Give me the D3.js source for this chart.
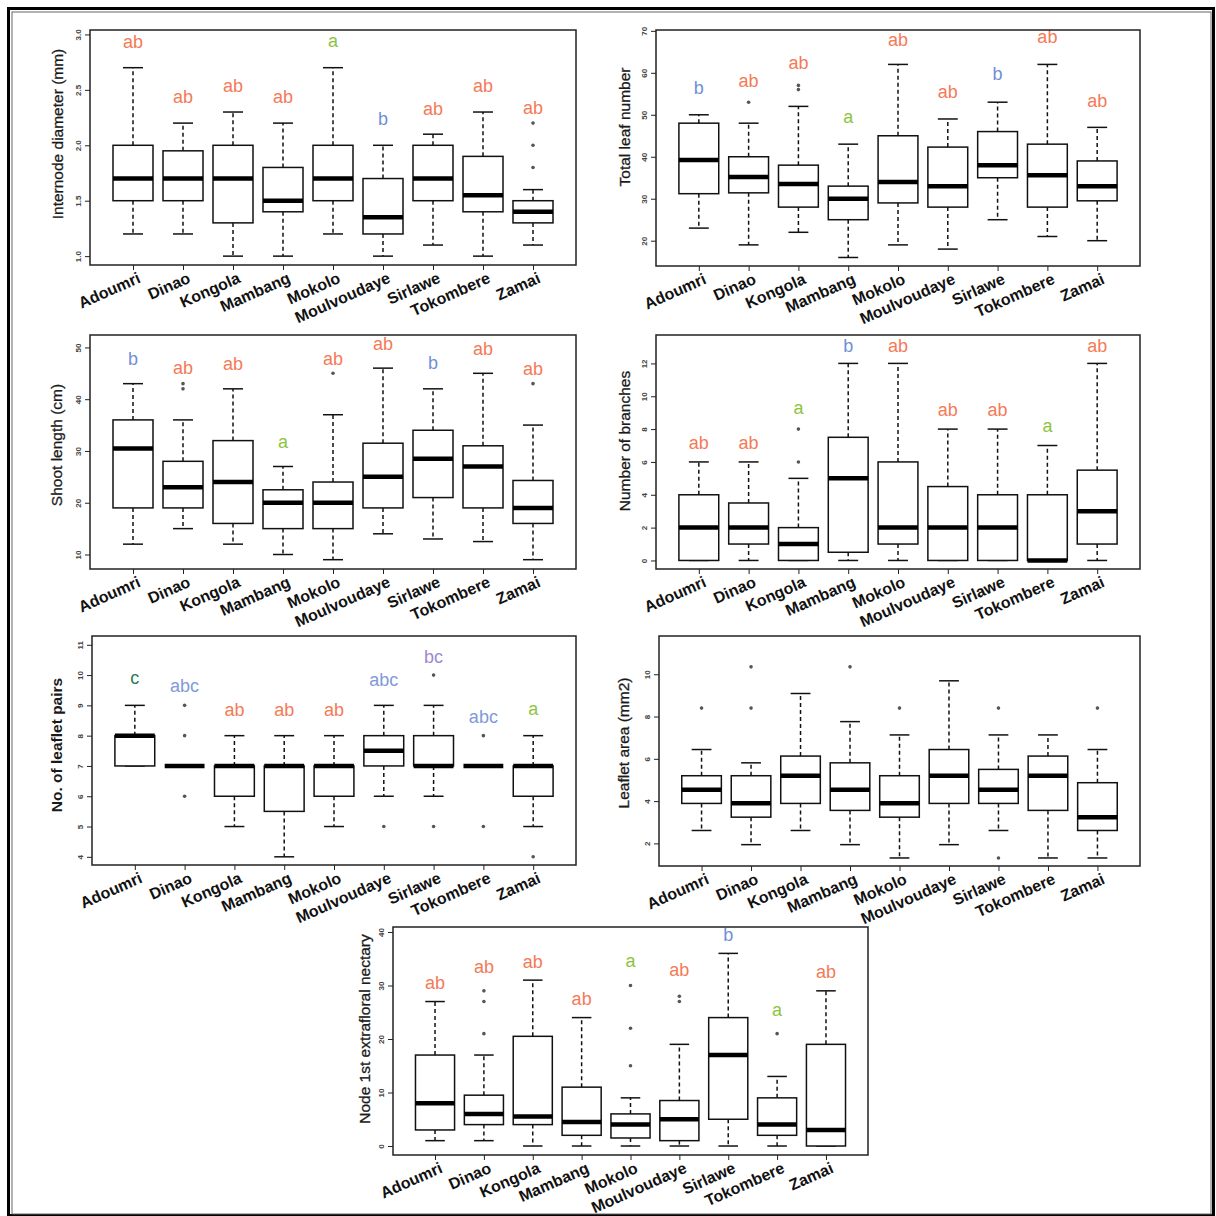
<!DOCTYPE html>
<html>
<head>
<meta charset="utf-8">
<script src="https://cdn.jsdelivr.net/npm/d3@7"></script>
<style>
body { margin: 0; background: #fff; }
svg text { font-family: "Liberation Sans", Arial, sans-serif; }
</style>
</head>
<body>
<svg id="chart" width="1216" height="1216"></svg>
<script>
var sites = ["Adoumri", "Dinao", "Kongola", "Mambang", "Mokolo", "Moulvoudaye", "Sirlawe", "Tokombere", "Zamai"];

// each box: [lower whisker, Q1, median, Q3, upper whisker]
var diamStats = [[1.2,1.5,1.7,2.0,2.7],[1.2,1.5,1.7,1.95,2.2],[1.0,1.3,1.7,2.0,2.3],[1.0,1.4,1.5,1.8,2.2],[1.2,1.5,1.7,2.0,2.7],
                 [1.0,1.2,1.35,1.7,2.0],[1.1,1.5,1.7,2.0,2.1],[1.0,1.4,1.55,1.9,2.3],[1.1,1.3,1.4,1.5,1.6]];
var diamOutliers = [[],[],[],[],[],[],[],[],[1.8,2.0,2.2]];
var diamLetters = ["ab","ab","ab","ab","a","b","ab","ab","ab"];
var diamLetterY = [2.93,2.44,2.54,2.44,2.94,2.24,2.33,2.54,2.34];
var diamTicks = [1.0,1.5,2.0,2.5,3.0];

var leafStats = [[23,31.2,39.2,48,50],[19,31.4,35.2,40,48],[22,28,33.5,38,52],[16,25,30,33,43],[19,29,34,45,62],
                 [18,28,33,42.3,49],[25,35,38,46,53],[21,28,35.6,43,62],[20,29.5,33,39,47]];
var leafOutliers = [[],[53],[56,57],[],[],[],[],[],[]];
var leafLetters = ["b","ab","ab","a","ab","ab","b","ab","ab"];
var leafLetterY = [56.5,58.1,62.3,49.6,67.9,55.5,59.7,68.5,53.3];
var leafTicks = [20,30,40,50,60,70];

var shootStats = [[12,19,30.5,36,43],[15,19,23,28,36],[12,16,24,32,42],[10,15,20,22.5,27],[9,15,20,24,37],
                  [14,19,25,31.5,46],[13,21,28.5,34,42],[12.5,19,27,31,45],[9,16,19,24.3,35]];
var shootOutliers = [[],[42,43],[],[],[45],[],[],[],[43]];
var shootLetters = ["b","ab","ab","a","ab","ab","b","ab","ab"];
var shootLetterY = [47.9,46.1,46.9,31.8,47.9,50.7,47,49.7,45.9];
var shootTicks = [10,20,30,40,50];

var branchStats = [[0,0,2,4,6],[0,1,2,3.5,6],[0,0,1,2,5],[0,0.5,5,7.5,12],[0,1,2,6,12],
                   [0,0,2,4.5,8],[0,0,2,4,8],[0,0,0,4,7],[0,1,3,5.5,12]];
var branchOutliers = [[],[],[6,8],[],[],[],[],[],[]];
var branchLetters = ["ab","ab","a","b","ab","ab","ab","a","ab"];
var branchLetterY = [7.15,7.15,9.3,13.1,13.1,9.2,9.2,8.2,13.1];
var branchTicks = [0,2,4,6,8,10,12];

var pairStats = [[7,7,8,8,9],[7,7,7,7,7],[5,6,7,7,8],[4,5.5,7,7,8],[5,6,7,7,8],
                 [6,7,7.5,8,9],[6,7,7,8,9],[7,7,7,7,7],[5,6,7,7,8]];
var pairOutliers = [[],[6,8,9],[],[],[],[5],[5,10],[5,8],[4]];
var pairLetters = ["c","abc","ab","ab","ab","abc","bc","abc","a"];
var pairLetterY = [9.91,9.65,8.85,8.85,8.85,9.86,10.6,8.63,8.89];
var pairTicks = [4,5,6,7,8,9,10,11];

var areaStats = [[2.61,3.89,4.54,5.2,6.44],[1.94,3.24,3.9,5.2,5.81],[2.61,3.89,5.2,6.13,9.09],[1.94,3.56,4.54,5.81,7.76],[1.31,3.24,3.9,5.2,7.13],
                 [1.94,3.89,5.2,6.44,9.69],[2.61,3.89,4.54,5.5,7.13],[1.31,3.56,5.2,6.13,7.13],[1.31,2.61,3.24,4.87,6.44]];
var areaOutliers = [[8.4],[8.4,10.35],[],[10.35],[8.4],[],[1.31,8.4],[],[8.4]];
var areaTicks = [2,4,6,8,10];

var nectStats = [[1,3,8,17,27],[1,4,6,9.5,17],[0,4,5.5,20.5,31],[0,2,4.5,11,24],[0,1.5,4,6,9],
                 [0,1,5,8.5,19],[0,5,17,24,36],[0,2,4,9,13],[0,0,3,19,29]];
var nectOutliers = [[],[21,27,29],[],[],[15,22,30],[27,28],[],[21],[]];
var nectLetters = ["ab","ab","ab","ab","a","ab","b","a","ab"];
var nectLetterY = [30.6,33.6,34.5,27.6,34.7,33,39.5,25.4,32.6];
var nectTicks = [0,10,20,30,40];

var letterColors = {"a":"#8dc443","ab":"#f47a58","b":"#6f8fd8","c":"#2f7a55","abc":"#7f9ad8","bc":"#a287cf"};

var svg = d3.select("#chart");

// outer frame
svg.append("rect").attr("x",8.5).attr("y",8.5).attr("width",1205).attr("height",1207)
  .attr("fill","none").attr("stroke","#000").attr("stroke-width",3);
svg.append("rect").attr("x",12).attr("y",12).attr("width",1199).attr("height",1202)
  .attr("fill","none").attr("stroke","#666").attr("stroke-width",1);

var panels = [
  {title:"Internode diameter (mm)", stats:diamStats, out:diamOutliers, letters:diamLetters, ly:diamLetterY, ticks:diamTicks,
   fmt:d3.format(".1f"), domain:[0.92,3.04], x0:90, x1:576, y0:30, y1:265, tx:58, ty:134},
  {title:"Total leaf number", stats:leafStats, out:leafOutliers, letters:leafLetters, ly:leafLetterY, ticks:leafTicks,
   domain:[13.97,70.2], x0:656, x1:1140, y0:30, y1:266, tx:625, ty:127},
  {title:"Shoot length (cm)", stats:shootStats, out:shootOutliers, letters:shootLetters, ly:shootLetterY, ticks:shootTicks,
   domain:[7.2,52.4], x0:90, x1:576, y0:335, y1:569, tx:57, ty:445},
  {title:"Number of branches", stats:branchStats, out:branchOutliers, letters:branchLetters, ly:branchLetterY, ticks:branchTicks,
   domain:[-0.52,13.73], x0:656, x1:1140, y0:335, y1:569, tx:625, ty:441},
  {title:"No. of leaflet pairs", stats:pairStats, out:pairOutliers, letters:pairLetters, ly:pairLetterY, ticks:pairTicks,
   domain:[3.73,11.29], x0:92, x1:576, y0:636, y1:865, tx:57, ty:745, bold:true},
  {title:"Leaflet area (mm2)", stats:areaStats, out:areaOutliers, letters:null, ly:null, ticks:areaTicks,
   domain:[0.93,11.81], x0:659, x1:1140, y0:636, y1:866, tx:624, ty:743},
  {title:"Node 1st extrafloral nectary", stats:nectStats, out:nectOutliers, letters:nectLetters, ly:nectLetterY, ticks:nectTicks,
   domain:[-1.68,40.93], x0:393, x1:868, y0:927, y1:1155, tx:365, ty:1029}
];

panels.forEach(drawPanel);

function drawPanel(p) {
  var x = d3.scalePoint().domain(sites).range([p.x0, p.x1]).padding(0.86);
  var y = d3.scaleLinear().domain(p.domain).range([p.y1, p.y0]);
  var bw = x.step() * 0.8;
  var g = svg.append("g");

  var ya = g.append("g").attr("transform", "translate(" + p.x0 + ",0)")
    .call(d3.axisLeft(y).tickValues(p.ticks).tickSize(5).tickFormat(p.fmt || d3.format("d")));
  ya.select(".domain").remove();
  ya.selectAll("line").attr("stroke", "#222");
  ya.selectAll("text")
    .attr("x", 0).attr("dy", 0)
    .attr("transform", "translate(-9,0) rotate(-90)")
    .style("text-anchor", "middle")
    .style("font-size", "8px")
    .style("font-weight", "bold")
    .attr("fill", "#444");

  var xa = g.append("g").attr("transform", "translate(0," + p.y1 + ")")
    .call(d3.axisBottom(x).tickSize(5));
  xa.select(".domain").remove();
  xa.selectAll("line").attr("stroke", "#222");
  xa.selectAll("text")
    .attr("x", 0).attr("y", 0).attr("dy", 0)
    .attr("transform", "translate(8,17) rotate(-24)")
    .style("text-anchor", "end")
    .style("font-size", "16px")
    .style("font-weight", "bold")
    .attr("fill", "#111");

  g.append("text")
    .attr("transform", "translate(" + p.tx + "," + p.ty + ") rotate(-90)")
    .attr("dy", "0.35em")
    .style("text-anchor", "middle")
    .style("font-size", "15.5px")
    .style("font-weight", p.bold ? "bold" : "normal")
    .attr("fill", "#1a1a1a")
    .attr("stroke", p.bold ? "none" : "#1a1a1a")
    .attr("stroke-width", 0.3)
    .text(p.title);

  var rows = sites.map(function(s, i) {
    return {site: s, st: p.stats[i], out: p.out[i],
            lab: p.letters ? p.letters[i] : null, ly: p.ly ? p.ly[i] : null};
  });

  var sg = g.selectAll(".site").data(rows).enter().append("g")
    .attr("transform", function(d) { return "translate(" + x(d.site) + ",0)"; });

  // whiskers
  sg.append("line").attr("x1",0).attr("x2",0)
    .attr("y1", function(d) { return y(d.st[3]); }).attr("y2", function(d) { return y(d.st[4]); })
    .attr("stroke","#111").attr("stroke-width",1.5).attr("stroke-dasharray","4,3");
  sg.append("line").attr("x1",0).attr("x2",0)
    .attr("y1", function(d) { return y(d.st[1]); }).attr("y2", function(d) { return y(d.st[0]); })
    .attr("stroke","#111").attr("stroke-width",1.5).attr("stroke-dasharray","4,3");
  sg.append("line").attr("x1",-bw/4).attr("x2",bw/4)
    .attr("y1", function(d) { return y(d.st[4]); }).attr("y2", function(d) { return y(d.st[4]); })
    .attr("stroke","#111").attr("stroke-width",1.5);
  sg.append("line").attr("x1",-bw/4).attr("x2",bw/4)
    .attr("y1", function(d) { return y(d.st[0]); }).attr("y2", function(d) { return y(d.st[0]); })
    .attr("stroke","#111").attr("stroke-width",1.5);

  // box
  sg.append("rect").attr("x",-bw/2).attr("width",bw)
    .attr("y", function(d) { return y(d.st[3]); })
    .attr("height", function(d) { return y(d.st[1]) - y(d.st[3]); })
    .attr("fill","#fff").attr("stroke","#111").attr("stroke-width",1.5);
  sg.append("line").attr("x1",-bw/2).attr("x2",bw/2)
    .attr("y1", function(d) { return y(d.st[2]); }).attr("y2", function(d) { return y(d.st[2]); })
    .attr("stroke","#000").attr("stroke-width",4.5);

  // outliers
  sg.selectAll(".out").data(function(d) { return d.out; }).enter().append("circle")
    .attr("cx",0).attr("cy", function(v) { return y(v); }).attr("r",1.8).attr("fill","#555");

  // significance letters
  if (p.letters) {
    sg.append("text").attr("x",0)
      .attr("y", function(d) { return y(d.ly); })
      .attr("dy","0.35em")
      .style("text-anchor","middle")
      .style("font-size","18px")
      .attr("fill", function(d) { return letterColors[d.lab]; })
      .text(function(d) { return d.lab; });
  }

  g.append("rect").attr("x",p.x0).attr("y",p.y0).attr("width",p.x1-p.x0).attr("height",p.y1-p.y0)
    .attr("fill","none").attr("stroke","#222").attr("stroke-width",1.5);
}
</script>
</body>
</html>
